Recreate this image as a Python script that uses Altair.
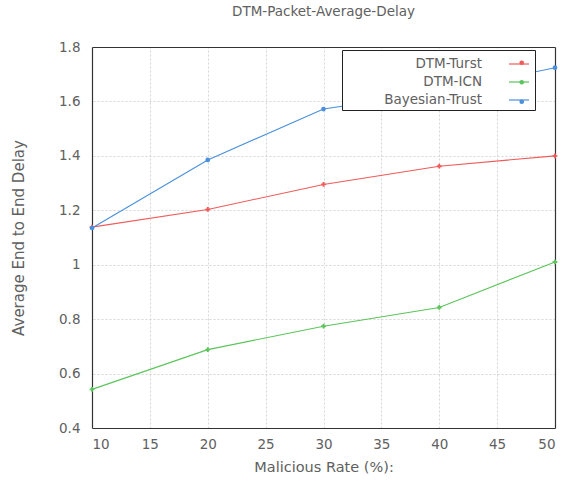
import altair as alt
import pandas as pd

rates = [10, 20, 30, 40, 50]
dtm_turst = [1.138, 1.203, 1.295, 1.362, 1.400]
dtm_icn = [0.542, 0.688, 0.774, 0.843, 1.010]
bayesian_trust = [1.135, 1.385, 1.572, 1.635, 1.724]

series_names = ["DTM-Turst", "DTM-ICN", "Bayesian-Trust"]
series_colors = ["#f05a5a", "#5cc45c", "#4a8fdc"]
series_shapes = ["cross", "cross", "circle"]

x_ticks = [10, 15, 20, 25, 30, 35, 40, 45, 50]
y_ticks = [0.4, 0.6, 0.8, 1.0, 1.2, 1.4, 1.6, 1.8]

rows = []
for name, vals in zip(series_names, [dtm_turst, dtm_icn, bayesian_trust]):
    for r, v in zip(rates, vals):
        rows.append({"rate": r, "delay": v, "series": name, "marker": name})
df = pd.DataFrame(rows)

FONT = "DejaVu Sans"
TXT = "#606060"
FS = 13.5

xscale = alt.Scale(domain=[10, 50], nice=False)
yscale = alt.Scale(domain=[0.4, 1.8], nice=False)

line_legend = alt.Legend(
    title=None,
    orient="none",
    legendX=250,
    legendY=3,
    strokeColor="#222222",
    fillColor="white",
    padding=3,
    labelFont=FONT,
    labelFontSize=FS,
    labelColor=TXT,
    symbolType="stroke",
    symbolSize=400,
    symbolStrokeWidth=1.2,
    labelAlign="right",
    labelOffset={"expr": "-48"},
    symbolOffset=163,
    rowPadding=0,
    labelLimit=200,
)

marker_legend = alt.Legend(
    title=None,
    orient="none",
    legendX=250,
    legendY=6,
    strokeColor="transparent",
    fillColor="transparent",
    padding=3,
    labelFont=FONT,
    labelFontSize=FS,
    labelOpacity=0,
    symbolSize=22,
    symbolStrokeWidth=0,
    symbolOpacity=1,
    labelAlign="right",
    labelOffset={"expr": "-48"},
    symbolOffset=170,
    rowPadding=4.5,
    labelLimit=200,
)

# grid layer (top/right axes, inner grid lines, solid frame on top/right)
grid_layer = (
    alt.Chart(df)
    .mark_point(opacity=0)
    .encode(
        x=alt.X(
            "rate:Q",
            scale=xscale,
            axis=alt.Axis(
                orient="top",
                values=x_ticks[1:-1],
                labels=False,
                title=None,
                grid=True,
                domain=True,
            ),
        ),
        y=alt.Y(
            "delay:Q",
            scale=yscale,
            axis=alt.Axis(
                orient="right",
                values=y_ticks[1:-1],
                labels=False,
                title=None,
                grid=True,
                domain=True,
            ),
        ),
    )
)

xenc = alt.X(
    "rate:Q",
    scale=xscale,
    axis=alt.Axis(
        values=x_ticks,
        title="Malicious Rate (%):",
        titlePadding=10,
        labelPadding=9,
        titleFontSize=14.5,
        grid=False,
        domain=True,
    ),
)
yenc = alt.Y(
    "delay:Q",
    scale=yscale,
    axis=alt.Axis(
        values=y_ticks,
        format=".2~f",
        title="Average End to End Delay",
        titlePadding=32,
        labelPadding=12,
        titleFontSize=15,
        grid=False,
        domain=True,
    ),
)

line_layer = (
    alt.Chart(df)
    .mark_line(strokeWidth=1.1)
    .encode(
        x=xenc,
        y=yenc,
        color=alt.Color(
            "series:N",
            scale=alt.Scale(domain=series_names, range=series_colors),
            legend=line_legend,
        ),
        order="rate:Q",
    )
)

point_layer = (
    alt.Chart(df)
    .mark_point(size=22, filled=True, opacity=1)
    .encode(
        x=alt.X("rate:Q", scale=xscale, axis=None),
        y=alt.Y("delay:Q", scale=yscale, axis=None),
        color=alt.Color(
            "marker:N",
            scale=alt.Scale(domain=series_names, range=series_colors),
            legend=marker_legend,
        ),
        shape=alt.Shape(
            "marker:N",
            scale=alt.Scale(domain=series_names, range=series_shapes),
            legend=None,
        ),
    )
)

chart = (
    alt.layer(grid_layer, line_layer, point_layer)
    .resolve_axis(x="independent", y="independent")
    .resolve_scale(color="independent")
    .properties(
        width=463,
        height=381,
        title=alt.TitleParams(
            "DTM-Packet-Average-Delay",
            font=FONT,
            fontSize=13.5,
            fontWeight="normal",
            color=TXT,
            offset=22,
        ),
        autosize=alt.AutoSizeParams(type="none"),
        padding={"left": 92, "top": 47, "right": 13, "bottom": 60},
    )
    .configure_view(stroke=None)
    .configure_axis(
        labelFont=FONT,
        titleFont=FONT,
        labelFontSize=FS,
        titleFontSize=FS,
        labelColor=TXT,
        titleColor=TXT,
        titleFontWeight="normal",
        ticks=False,
        domainColor="#333333",
        domainWidth=1.2,
        gridColor="#cccccc",
        gridDash=[2, 2],
        gridWidth=0.8,
    )
)

chart.save("out.html", embed_options={"renderer": "svg", "actions": False})
